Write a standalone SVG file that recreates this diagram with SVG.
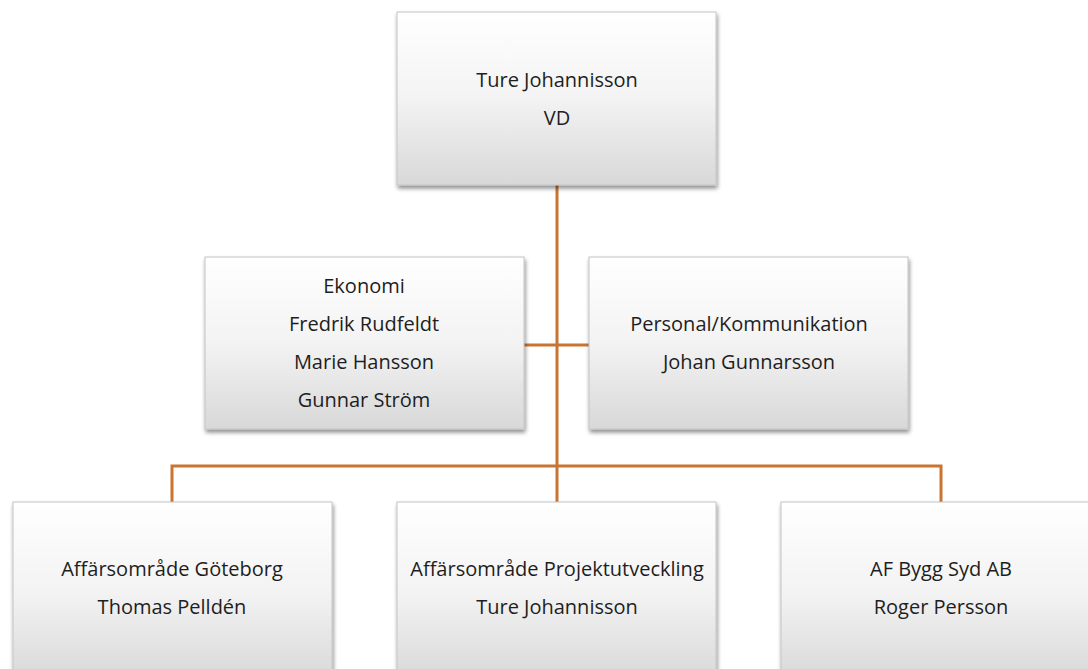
<svg xmlns="http://www.w3.org/2000/svg" width="1088" height="669" viewBox="0 0 1088 669">
<defs>
<linearGradient id="g" x1="0" y1="0" x2="0" y2="1">
<stop offset="0" stop-color="#ffffff"/>
<stop offset="0.5" stop-color="#f3f3f3"/>
<stop offset="1" stop-color="#d8d8d8"/>
</linearGradient>
<filter id="sh" x="-10%" y="-10%" width="125%" height="125%">
<feGaussianBlur in="SourceAlpha" stdDeviation="2"/>
<feOffset dx="1" dy="3" result="b"/>
<feComponentTransfer><feFuncA type="linear" slope="0.45"/></feComponentTransfer>
<feMerge><feMergeNode/><feMergeNode in="SourceGraphic"/></feMerge>
</filter>
</defs>
<style>
.box{fill:url(#g);stroke:#c4c4c4;stroke-width:1;filter:url(#sh)}
.t{font-family:"Open Sans","Liberation Sans",sans-serif;font-size:20px;fill:#1e1e1e;text-anchor:middle}
.c{stroke:#c87533;stroke-width:3;fill:none}
</style>
<rect width="1088" height="669" fill="#ffffff"/>
<g id="connectors">
<line class="c" x1="557" y1="185" x2="557" y2="502"/>
<line class="c" x1="524" y1="345" x2="589" y2="345"/>
<polyline class="c" points="172,502 172,466 941,466 941,502"/>
</g>
<g id="n_vd">
<rect class="box" x="397" y="12" width="319" height="173"/>
<text class="t" x="557" y="87">Ture Johannisson</text>
<text class="t" x="557" y="125">VD</text>
</g>
<g id="n_ekonomi">
<rect class="box" x="205" y="257" width="319" height="172"/>
<text class="t" x="364" y="293">Ekonomi</text>
<text class="t" x="364" y="331">Fredrik Rudfeldt</text>
<text class="t" x="364" y="369">Marie Hansson</text>
<text class="t" x="364" y="407">Gunnar Ström</text>
</g>
<g id="n_personal">
<rect class="box" x="589" y="257" width="319" height="172"/>
<text class="t" x="749" y="331">Personal/Kommunikation</text>
<text class="t" x="749" y="369">Johan Gunnarsson</text>
</g>
<g id="n_gbg">
<rect class="box" x="13" y="502" width="319" height="180"/>
<text class="t" x="172" y="576">Affärsområde Göteborg</text>
<text class="t" x="172" y="614">Thomas Pelldén</text>
</g>
<g id="n_proj">
<rect class="box" x="397" y="502" width="319" height="180"/>
<text class="t" x="557" y="576">Affärsområde Projektutveckling</text>
<text class="t" x="557" y="614">Ture Johannisson</text>
</g>
<g id="n_syd">
<rect class="box" x="781" y="502" width="319" height="180"/>
<text class="t" x="941" y="576">AF Bygg Syd AB</text>
<text class="t" x="941" y="614">Roger Persson</text>
</g>
</svg>
